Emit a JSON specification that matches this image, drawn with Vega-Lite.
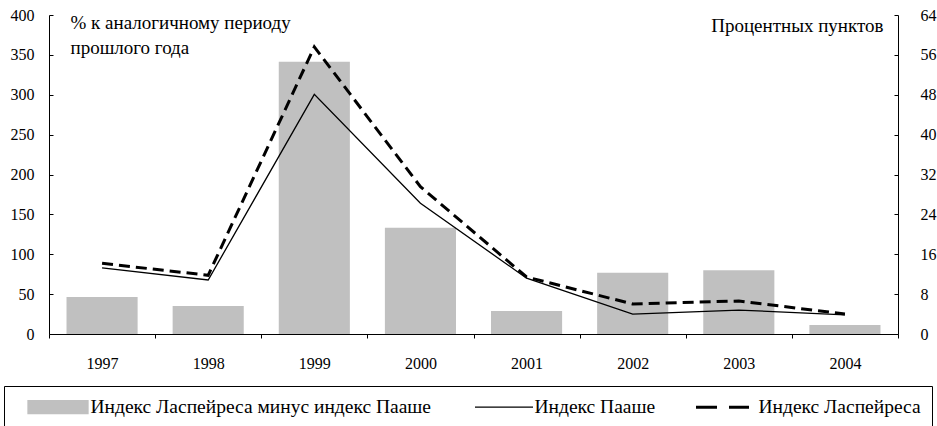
{
  "$schema": "https://vega.github.io/schema/vega-lite/v6.json",
  "autosize": {"type": "none"},
  "width": 849,
  "height": 319,
  "padding": {"left": 49, "top": 15, "right": 39, "bottom": 92},
  "background": "white",
  "config": {
    "view": {"stroke": null},
    "font": "Liberation Serif",
    "axis": {
      "labelFont": "Liberation Serif", "labelFontSize": 16, "labelColor": "#000",
      "titleFont": "Liberation Serif", "titleFontSize": 19, "titleFontWeight": "normal", "titleColor": "#000",
      "domainColor": "#000", "tickColor": "#000", "grid": false, "labelOverlap": false
    },
    "legend": {
      "labelFont": "Liberation Serif", "labelFontSize": 19.5, "labelColor": "#000"
    }
  },
  "data": {
    "values": [
      {"year": "1997", "series": "Индекс Ласпейреса минус индекс Пааше", "value": 7.4},
      {"year": "1998", "series": "Индекс Ласпейреса минус индекс Пааше", "value": 5.6},
      {"year": "1999", "series": "Индекс Ласпейреса минус индекс Пааше", "value": 54.6},
      {"year": "2000", "series": "Индекс Ласпейреса минус индекс Пааше", "value": 21.3},
      {"year": "2001", "series": "Индекс Ласпейреса минус индекс Пааше", "value": 4.6},
      {"year": "2002", "series": "Индекс Ласпейреса минус индекс Пааше", "value": 12.3},
      {"year": "2003", "series": "Индекс Ласпейреса минус индекс Пааше", "value": 12.8},
      {"year": "2004", "series": "Индекс Ласпейреса минус индекс Пааше", "value": 1.8},
      {"year": "1997", "series": "Индекс Пааше", "value": 82.8},
      {"year": "1998", "series": "Индекс Пааше", "value": 67.7},
      {"year": "1999", "series": "Индекс Пааше", "value": 300.5},
      {"year": "2000", "series": "Индекс Пааше", "value": 164},
      {"year": "2001", "series": "Индекс Пааше", "value": 70},
      {"year": "2002", "series": "Индекс Пааше", "value": 25},
      {"year": "2003", "series": "Индекс Пааше", "value": 30},
      {"year": "2004", "series": "Индекс Пааше", "value": 24},
      {"year": "1997", "series": "Индекс Ласпейреса", "value": 88.6},
      {"year": "1998", "series": "Индекс Ласпейреса", "value": 73.6},
      {"year": "1999", "series": "Индекс Ласпейреса", "value": 360},
      {"year": "2000", "series": "Индекс Ласпейреса", "value": 184.7},
      {"year": "2001", "series": "Индекс Ласпейреса", "value": 71.5},
      {"year": "2002", "series": "Индекс Ласпейреса", "value": 37.6},
      {"year": "2003", "series": "Индекс Ласпейреса", "value": 41.4},
      {"year": "2004", "series": "Индекс Ласпейреса", "value": 25}
    ]
  },
  "encoding": {
    "x": {
      "field": "year", "type": "nominal",
      "scale": {"paddingInner": 0, "paddingOuter": 0},
      "axis": {
        "title": null, "labelAngle": 0, "tickBand": "extent", "tickSize": 4,
        "labelPadding": 17
      }
    },
    "color": {
      "field": "series", "type": "nominal",
      "scale": {
        "domain": ["Индекс Ласпейреса минус индекс Пааше", "Индекс Пааше", "Индекс Ласпейреса"],
        "range": ["#c0c0c0", "#000000", "#000000"]
      },
      "legend": {
        "title": null,
        "orient": "none",
        "legendX": -45,
        "legendY": 371,
        "direction": "horizontal",
        "padding": 11,
        "strokeColor": "#000",
        "fillColor": "#fff",
        "labelOffset": 56,
        "labelLimit": 0,
        "columnPadding": 27,
        "encode": {
          "symbols": {
            "update": {
              "size": {"value": 4},
              "x": {"value": 0},
              "shape": {"signal": "datum.value === 'Индекс Пааше' ? 'M16,0H74' : datum.value === 'Индекс Ласпейреса' ? 'M13,0H34M46,0H66' : 'M13,-6.5H73V6.5H13Z'"},
              "fill": {"signal": "datum.value === 'Индекс Ласпейреса минус индекс Пааше' ? '#c0c0c0' : 'transparent'"},
              "stroke": {"signal": "datum.value === 'Индекс Ласпейреса минус индекс Пааше' ? 'transparent' : '#000'"},
              "strokeWidth": {"signal": "datum.value === 'Индекс Ласпейреса' ? 3 : 1.3"},
              "opacity": {"value": 1}
            }
          }
        }
      }
    }
  },
  "layer": [
    {
      "transform": [{"filter": "datum.series === 'Индекс Ласпейреса минус индекс Пааше'"}],
      "mark": {"type": "bar", "width": {"band": 0.67}},
      "encoding": {
        "y": {
          "field": "value", "type": "quantitative",
          "scale": {"domain": [0, 64], "nice": false},
          "axis": {
            "orient": "right", "values": [0, 8, 16, 24, 32, 40, 48, 56, 64],
            "tickSize": -4, "labelPadding": 26,
            "title": "Процентных пунктов", "titleAngle": 0, "titleAlign": "right",
            "titleBaseline": "alphabetic", "titleX": -15, "titleY": 16
          }
        }
      }
    },
    {
      "transform": [{"filter": "datum.series !== 'Индекс Ласпейреса минус индекс Пааше'"}],
      "encoding": {
        "y": {
          "field": "value", "type": "quantitative",
          "scale": {"domain": [0, 400], "nice": false},
          "axis": {
            "orient": "left", "values": [0, 50, 100, 150, 200, 250, 300, 350, 400],
            "tickSize": -4, "labelPadding": 19,
            "title": ["% к аналогичному периоду", "прошлого года"],
            "titleAngle": 0, "titleAlign": "left", "titleBaseline": "alphabetic",
            "titleX": 21, "titleY": 13, "titleLineHeight": 25
          }
        }
      },
      "layer": [
        {
          "transform": [{"filter": "datum.series === 'Индекс Пааше'"}],
          "mark": {"type": "line", "strokeWidth": 1.3}
        },
        {
          "transform": [{"filter": "datum.series === 'Индекс Ласпейреса'"}],
          "mark": {"type": "line", "strokeWidth": 3, "strokeDash": [11, 6]}
        }
      ]
    }
  ],
  "resolve": {"scale": {"y": "independent"}}
}
